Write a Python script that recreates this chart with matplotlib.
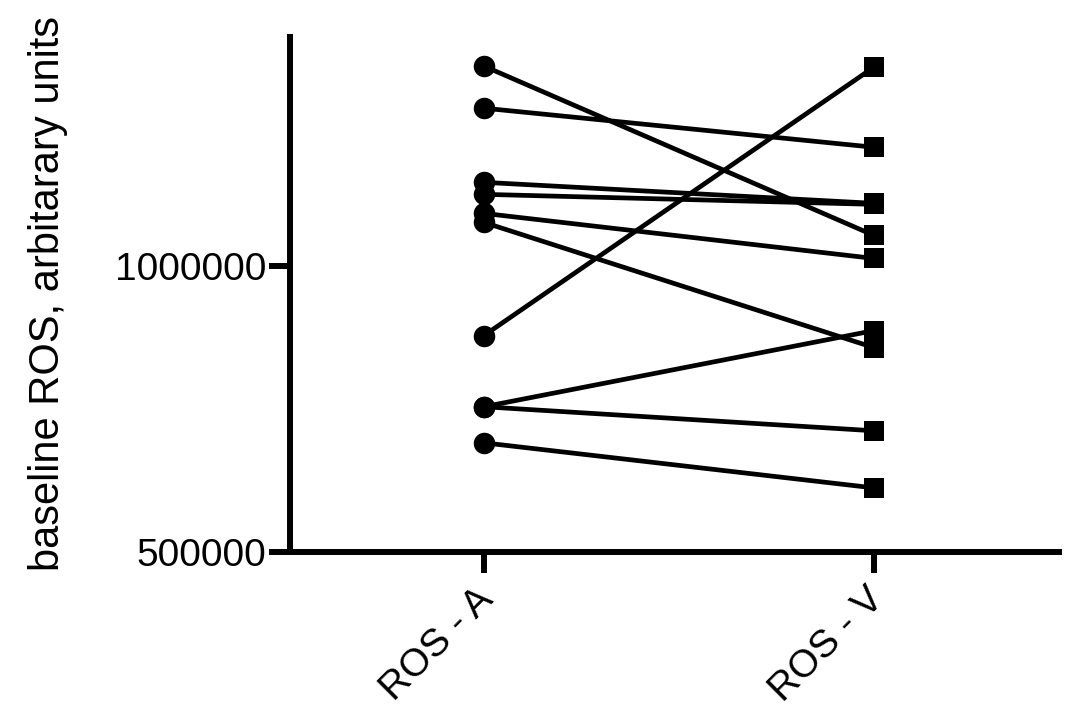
import matplotlib
matplotlib.use("Agg")
import matplotlib.pyplot as plt
import matplotlib.transforms as mtransforms

categories = ["ROS - A", "ROS - V"]
ros_a = [1350877, 1277193, 1147368, 1126316, 1092982, 1077193, 878947, 754386, 754386, 691228]
ros_v = [1054386, 1208772, 1110526, 1108772, 1014035, 857895, 1349123, 887719, 712281, 612281]
yticks = [500000, 1000000]
ylabel = "baseline ROS, arbitarary units"

plt.rcParams['font.family'] = ['Liberation Sans', 'DejaVu Sans']

fig = plt.figure(figsize=(10.72, 7.09), dpi=100)
ax = fig.add_axes([0.2705, 0.2214, 0.7202, 0.7306])

for a, v in zip(ros_a, ros_v):
    ax.plot([0, 1], [a, v], color='black', lw=3.4, solid_capstyle='butt', zorder=2)
ax.plot([0] * len(ros_a), ros_a, 'o', color='black', ms=15.5, zorder=3, markeredgewidth=0)
ax.plot([1] * len(ros_v), ros_v, 's', color='black', ms=15, zorder=3, markeredgewidth=0)

ax.set_xlim(-0.497, 1.482)
ax.set_ylim(500000, 1407000)
ax.set_yticks(yticks)
ax.set_yticklabels([str(t) for t in yticks], fontsize=28)
ax.set_xticks(range(len(categories)))
ax.tick_params(axis='x', labelbottom=False)

trans = mtransforms.blended_transform_factory(ax.transData, ax.transAxes) + \
    mtransforms.ScaledTranslation(-0.09, -0.29, fig.dpi_scale_trans)
for i, cat in enumerate(categories):
    ax.text(i, 0, cat, transform=trans, fontsize=28, rotation=45,
            ha='right', va='top', rotation_mode='anchor', clip_on=False)

ax.set_ylabel(ylabel, fontsize=30, labelpad=34)

for s in ['top', 'right']:
    ax.spines[s].set_visible(False)
for s in ['left', 'bottom']:
    ax.spines[s].set_linewidth(4.3)
    ax.spines[s].set_capstyle('butt')
ax.tick_params(axis='both', width=4.3, length=15, color='black', pad=2)

fig.savefig("out.png", dpi=100)
